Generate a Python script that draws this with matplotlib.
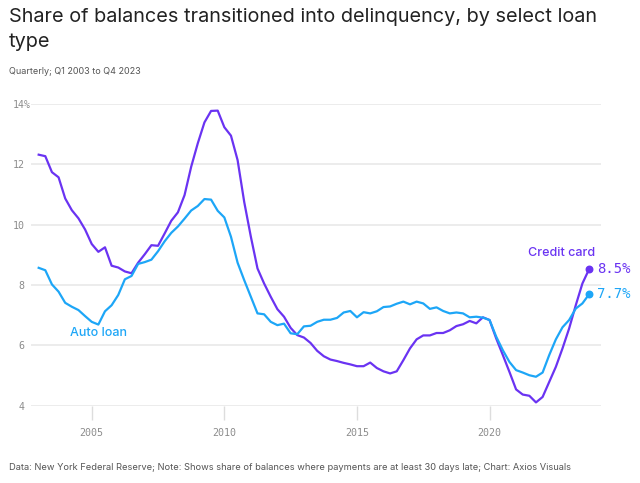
import numpy as np
import matplotlib.pyplot as plt

# Q1 2003 .. Q4 2023, quarterly
quarters = np.arange(2003, 2024, 0.25)

credit_card = [
    12.32, 12.27, 11.74, 11.57, 10.87, 10.48, 10.21, 9.84,
    9.36, 9.10, 9.25, 8.64, 8.58, 8.45, 8.39, 8.74,
    9.02, 9.32, 9.30, 9.71, 10.13, 10.41, 10.98, 11.92,
    12.70, 13.39, 13.77, 13.78, 13.23, 12.95, 12.14, 10.75,
    9.60, 8.55, 8.05, 7.61, 7.20, 6.95, 6.58, 6.34,
    6.26, 6.08, 5.82, 5.64, 5.53, 5.48, 5.42, 5.37,
    5.31, 5.31, 5.43, 5.25, 5.14, 5.07, 5.14, 5.51,
    5.90, 6.20, 6.33, 6.33, 6.41, 6.41, 6.50, 6.64,
    6.70, 6.81, 6.73, 6.93, 6.84, 6.23, 5.68, 5.12,
    4.54, 4.37, 4.33, 4.11, 4.29, 4.79, 5.29, 5.90,
    6.56, 7.33, 8.05, 8.52,
]

auto_loan = [
    8.57, 8.49, 8.02, 7.78, 7.41, 7.28, 7.17, 6.97,
    6.78, 6.69, 7.13, 7.33, 7.67, 8.19, 8.30, 8.70,
    8.76, 8.84, 9.12, 9.45, 9.73, 9.94, 10.20, 10.47,
    10.62, 10.85, 10.83, 10.46, 10.24, 9.60, 8.74, 8.16,
    7.61, 7.06, 7.03, 6.78, 6.67, 6.72, 6.40, 6.37,
    6.63, 6.65, 6.78, 6.85, 6.85, 6.91, 7.09, 7.14,
    6.93, 7.10, 7.06, 7.13, 7.27, 7.29, 7.38, 7.45,
    7.36, 7.45, 7.39, 7.21, 7.26, 7.14, 7.06, 7.09,
    7.06, 6.93, 6.95, 6.92, 6.84, 6.29, 5.84, 5.45,
    5.18, 5.10, 5.01, 4.96, 5.10, 5.68, 6.20, 6.60,
    6.84, 7.22, 7.39, 7.69,
]

ytick_vals = [4, 6, 8, 10, 12, 14]
ytick_labels = [" 4", " 6", " 8", "10", "12", "14%"]
xtick_vals = [2005, 2010, 2015, 2020]

purple = "#6a33f2"
blue = "#1da6f7"
gray = "#8c8c8c"

fig = plt.figure(figsize=(6.4, 4.83), dpi=100)
ax = fig.add_axes([0.048, 0.160, 0.891, 0.6247])

ax.plot(quarters, credit_card, color=purple, lw=1.6, zorder=3)
ax.plot(quarters, auto_loan, color=blue, lw=1.6, zorder=3)
ax.scatter([quarters[-1]], [credit_card[-1]], s=22, color=purple, zorder=4, clip_on=False)
ax.scatter([quarters[-1]], [auto_loan[-1]], s=22, color=blue, zorder=4, clip_on=False)

mono = "DejaVu Sans Mono"
ax.annotate(f"{credit_card[-1]:.1f}%", (quarters[-1], credit_card[-1]), xytext=(6, 0),
            textcoords="offset points", va="center", ha="left", color=purple,
            fontsize=10, family=mono, annotation_clip=False)
ax.annotate(f"{auto_loan[-1]:.1f}%", (quarters[-1], auto_loan[-1]), xytext=(6, 0),
            textcoords="offset points", va="center", ha="left", color=blue,
            fontsize=10, family=mono, annotation_clip=False)
ax.text(2022.7, 9.06, "Credit card", color=purple, fontsize=9, family="Inter",
        fontweight="medium", ha="center", va="center")
ax.text(2005.25, 6.40, "Auto loan", color=blue, fontsize=9, family="Inter",
        fontweight="medium", ha="center", va="center")

ax.set_xlim(2002.7, 2024.2)
ax.set_ylim(4, 14)
ax.set_yticks(ytick_vals)
ax.set_yticklabels(ytick_labels, family=mono, fontsize=7.2, color=gray, ha="left")
ax.set_xticks(xtick_vals)
ax.set_xticklabels([str(v) for v in xtick_vals], family=mono, fontsize=7.2, color=gray)
ax.tick_params(axis="y", length=0, pad=13)
ax.tick_params(axis="x", length=10, width=1, color="#dddddd", pad=6)
ax.grid(axis="y", color="#e9e9e9", lw=1.2, zorder=0)
for s in ax.spines.values():
    s.set_visible(False)

fig.text(0.014, 0.984, "Share of balances transitioned into delinquency, by select loan\ntype",
         fontsize=14.3, family="Inter", color="#222222", va="top", ha="left", linespacing=1.55)
fig.text(0.014, 0.853, "Quarterly; Q1 2003 to Q4 2023", fontsize=6.5, family="Inter",
         color="#555555", va="center", ha="left")
fig.text(0.014, 0.033, "Data: New York Federal Reserve; Note: Shows share of balances where payments "
         "are at least 30 days late; Chart: Axios Visuals", fontsize=6.7, family="Inter",
         color="#555555", va="center", ha="left")

fig.savefig("out.png", dpi=100)
